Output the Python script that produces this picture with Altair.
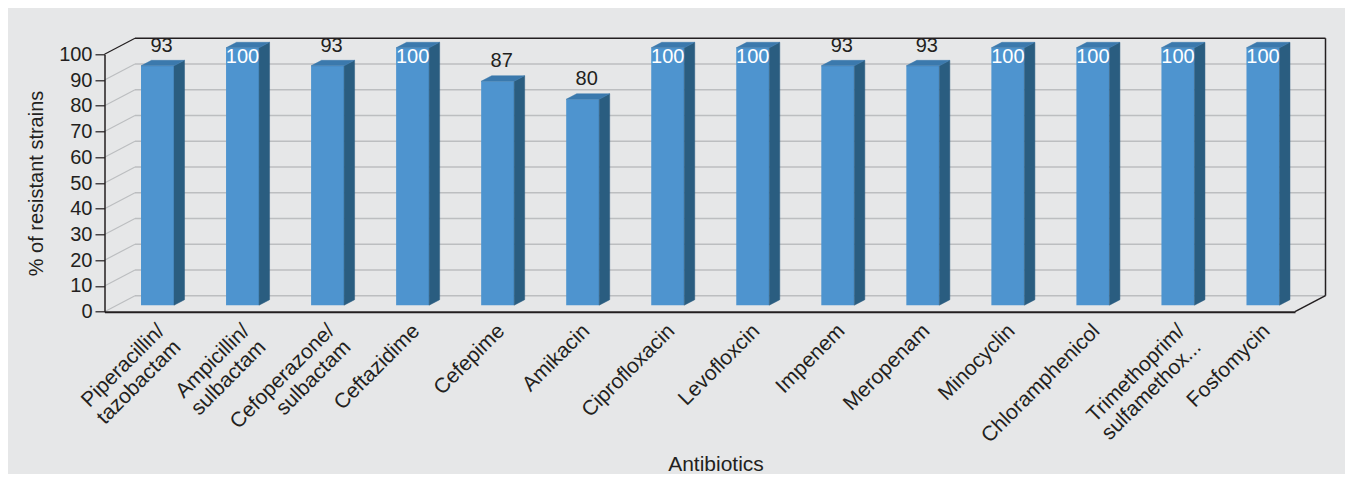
import altair as alt
import pandas as pd

# ---- data ----
categories = ["Piperacillin/|tazobactam", "Ampicillin/|sulbactam", "Cefoperazone/|sulbactam",
              "Ceftazidime", "Cefepime", "Amikacin", "Ciprofloxacin", "Levofloxcin", "Impenem",
              "Meropenam", "Minocyclin", "Chloramphenicol", "Trimethoprim/|sulfamethox...", "Fosfomycin"]
resistant = [93, 100, 93, 100, 87, 80, 100, 100, 93, 93, 100, 100, 100, 100]
y_ticks = list(range(0, 101, 10))

# ---- style / geometry constants ----
BG = "#e6e7e8"
DARK = "#231f20"
GRID = "#bcbec0"
FRONT = "#4e94cf"
SIDE = "#2a5d80"
TOP = "#3b79ad"
FONT = "Liberation Sans"

PLOT_W = 1190.5
PLOT_H = 257.4
N = len(categories)
PX_X = PLOT_W / N
PX_Y = PLOT_H / 100
WALL_DX = 30.5 / PX_X
WALL_DY = 16 / PX_Y
BAR_HALF = 16.5 / PX_X
BAR_DX = 10.5 / PX_X
BAR_DY = 5.5 / PX_Y
POS_DX = 10.5 / PX_X
POS_DY = 6.5 / PX_Y
X0, X1 = -0.5, N - 0.5

# ---- tables built from the lists ----
bars = pd.DataFrame({"idx": list(range(N)), "value": resistant})
bars["xl"] = bars.idx - BAR_HALF + POS_DX
bars["xr"] = bars.idx + BAR_HALF + POS_DX
bars["xc"] = bars.idx + POS_DX
bars["yb"] = POS_DY
bars["yt"] = bars.value + POS_DY

# polygon corner tables for the side and top faces (face id, corner order k)
side_rows, top_rows = [], []
for i in range(N):
    xl = float(bars.xl[i]); xr = float(bars.xr[i])
    yb = float(bars.yb[i]); yt = float(bars.yt[i])
    for k, (px, py) in enumerate([(xr, yb), (xr, yt), (xr + BAR_DX, yt + BAR_DY), (xr + BAR_DX, yb + BAR_DY)]):
        side_rows.append({"face": i, "k": k, "px": px, "py": py})
    for k, (px, py) in enumerate([(xl, yt), (xr, yt), (xr + BAR_DX, yt + BAR_DY), (xl + BAR_DX, yt + BAR_DY)]):
        top_rows.append({"face": i, "k": k, "px": px, "py": py})
side = pd.DataFrame(side_rows)
topf = pd.DataFrame(top_rows)

hexa = pd.DataFrame({
    "k": [0, 1, 2, 3],
    "x": [X0, X0 + WALL_DX, X1, X1 + WALL_DX],
    "top": [100, 100 + WALL_DY, 100 + WALL_DY, 100 + WALL_DY],
    "bot": [0, 0, 0, WALL_DY],
})

grid = pd.DataFrame({"v": y_ticks})
grid["bx0"] = X0 + WALL_DX
grid["bx1"] = X1 + WALL_DX
grid["by"] = grid.v + WALL_DY
grid["lx0"] = X0
grid["lx1"] = X0 + WALL_DX

edges = pd.DataFrame({
    "x": [X1 + WALL_DX, X1],
    "x2": [X1 + WALL_DX, X1 + WALL_DX],
    "y": [WALL_DY, 0],
    "y2": [100 + WALL_DY, WALL_DY],
})

# ---- shared scales / axes ----
x_scale = alt.Scale(domain=[X0, X1], nice=False, zero=False)
y_scale = alt.Scale(domain=[0, 100], nice=False, zero=False)
label_expr = "split([" + ",".join("'" + c + "'" for c in categories) + "][datum.value], '|')"

x_axis = alt.Axis(values=list(range(N)), labelExpr=label_expr, labelAngle=315,
                  labelAlign="right", labelBaseline="top", ticks=False, labelPadding=8,
                  labelOffset=6, labelFlush=False, labelOverlap=False, labelBound=False,
                  labelFontSize=21, labelLineHeight=23, labelColor=DARK, labelFont=FONT,
                  domainColor=DARK, domainWidth=2, grid=False,
                  titleFontSize=21, titleFontWeight="normal", titleColor=DARK, titleFont=FONT,
                  titleX=611, titleY=158.5, titleAlign="center", titleBaseline="alphabetic",
                  zindex=1)
y_axis = alt.Axis(values=y_ticks, tickSize=9.5, tickColor=DARK, tickWidth=1.2,
                  labelPadding=3, labelFontSize=20, labelColor=DARK, labelFont=FONT,
                  domainColor=DARK, domainWidth=1.5, grid=False,
                  titleFontSize=20, titleFontWeight="normal", titleColor=DARK, titleFont=FONT,
                  titleX=-68, titleY=128.7, titleAngle=270, titleAlign="center",
                  titleBaseline="middle", zindex=1)


def X(f):
    return alt.X(f + ":Q", scale=x_scale, axis=x_axis, title="Antibiotics", stack=None)


def Y(f):
    return alt.Y(f + ":Q", scale=y_scale, axis=y_axis, title="% of resistant strains", stack=None)


layers = []

layers.append(alt.Chart(hexa).mark_area(orient="vertical", color="white").encode(
    x=X("x"), y=Y("top"), y2="bot", order="k:Q"))

layers.append(alt.Chart(grid).mark_rule(strokeWidth=1.5).encode(
    x=X("bx0"), x2="bx1", y=Y("by"),
    color=alt.condition("datum.v == 100", alt.value(DARK), alt.value(GRID))))

layers.append(alt.Chart(grid).mark_rule(strokeWidth=1.2).encode(
    x=X("lx0"), x2="lx1", y=Y("v"), y2="by",
    color=alt.condition("datum.v == 100", alt.value(DARK), alt.value(GRID))))

layers.append(alt.Chart(edges).mark_rule(strokeWidth=1.5, color=DARK).encode(
    x=X("x"), x2="x2", y=Y("y"), y2="y2"))

layers.append(alt.Chart(bars).mark_rect(color=FRONT).encode(
    x=X("xl"), x2="xr", y=Y("yb"), y2="yt"))

# filled closed polylines for the side and top faces
layers.append(alt.Chart(side).mark_line(fill=SIDE, stroke=SIDE, strokeWidth=0.5, interpolate="linear-closed").encode(
    x=X("px"), y=Y("py"), detail="face:N", order="k:Q"))
layers.append(alt.Chart(topf).mark_line(fill=TOP, stroke=TOP, strokeWidth=0.5, interpolate="linear-closed").encode(
    x=X("px"), y=Y("py"), detail="face:N", order="k:Q"))

layers.append(alt.Chart(bars).transform_filter("datum.value >= 100").mark_text(
    color="white", fontSize=20, font=FONT, baseline="alphabetic", dy=15).encode(
    x=X("xc"), y=Y("yt"), text="value:Q"))

layers.append(alt.Chart(bars).transform_filter("datum.value < 100").mark_text(
    color=DARK, fontSize=20, font=FONT, baseline="alphabetic", dx=4, dy=-14).encode(
    x=X("xc"), y=Y("yt"), text="value:Q"))

chart = alt.layer(*layers).properties(
    width=PLOT_W, height=PLOT_H,
    autosize=alt.AutoSizeParams(type="none"),
    padding={"left": 96.5, "top": 46.3, "right": 50, "bottom": 162.3},
).configure(background=BG, font=FONT).configure_view(stroke=None)

chart.save("out.html", embed_options={"renderer": "svg", "actions": False})
